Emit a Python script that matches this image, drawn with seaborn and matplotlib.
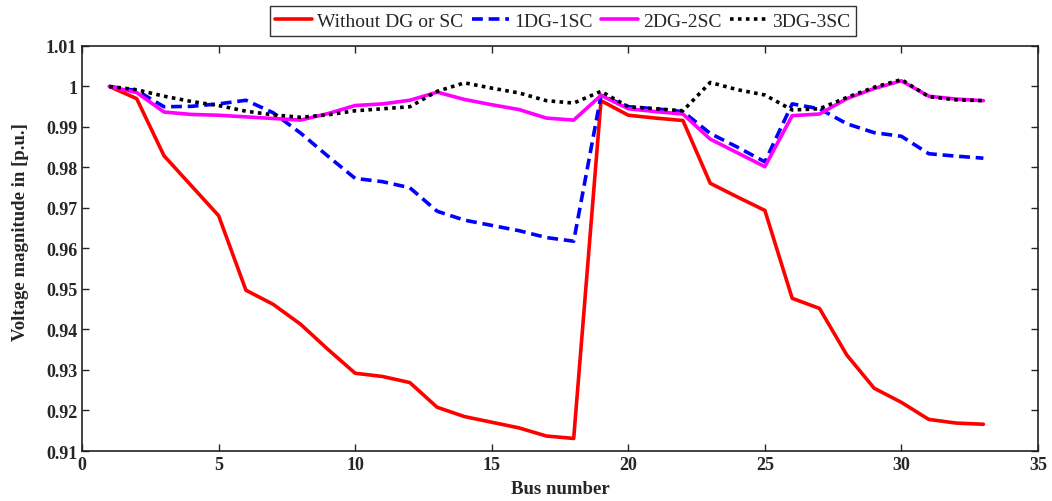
import numpy as np
import pandas as pd
import seaborn as sns
import matplotlib
matplotlib.use("Agg")
import matplotlib.pyplot as plt

bus = list(range(1, 34))
without = [1.0, 0.997, 0.9829, 0.9755, 0.9681, 0.9497, 0.9462, 0.9413, 0.9351, 0.9292,
           0.9284, 0.9269, 0.9208, 0.9185, 0.9171, 0.9157, 0.9137, 0.9131, 0.9965, 0.9929,
           0.9922, 0.9916, 0.9761, 0.9727, 0.9694, 0.9477, 0.9452, 0.9337, 0.9255, 0.9220,
           0.9178, 0.9169, 0.9166]
dg1 = [1.0, 0.999, 0.9950, 0.9951, 0.9957, 0.9966, 0.9935, 0.9885, 0.9828, 0.9773,
       0.9765, 0.9750, 0.9692, 0.9670, 0.9657, 0.9644, 0.9627, 0.9618, 0.9978, 0.9950,
       0.9945, 0.9938, 0.9884, 0.9850, 0.9814, 0.9957, 0.9945, 0.9908, 0.9886, 0.9877,
       0.9834, 0.9828, 0.9823]
dg2 = [1.0, 0.9985, 0.9937, 0.9931, 0.9929, 0.9925, 0.9921, 0.9917, 0.9933, 0.9953,
       0.9957, 0.9966, 0.9986, 0.9968, 0.9955, 0.9943, 0.9922, 0.9917, 0.9978, 0.9945,
       0.9938, 0.9932, 0.9870, 0.9836, 0.9802, 0.9928, 0.9932, 0.9970, 0.9995, 1.0014,
       0.9976, 0.9969, 0.9965]
dg3 = [1.0, 0.9992, 0.9976, 0.9963, 0.9953, 0.9939, 0.9930, 0.9924, 0.9930, 0.9940,
       0.9945, 0.9950, 0.9988, 1.0009, 0.9996, 0.9984, 0.9965, 0.9959, 0.9988, 0.9950,
       0.9945, 0.9940, 1.0010, 0.9992, 0.9979, 0.9942, 0.9945, 0.9973, 0.9998, 1.0017,
       0.9975, 0.9967, 0.9965]
names = ["Without DG or SC", "1DG-1SC", "2DG-2SC", "3DG-3SC"]
colors = ["#ff0000", "#0000ff", "#ff00ff", "#000000"]

df = pd.DataFrame({
    "Bus": bus * 4,
    "V": without + dg1 + dg2 + dg3,
    "Case": sum([[n] * len(bus) for n in names], []),
})

sns.set_style("ticks")
plt.rcParams['font.family'] = ['Liberation Serif', 'DejaVu Serif']

fig = plt.figure(figsize=(10.52, 5.02), dpi=100)
ax = fig.add_axes([0.078, 0.0996, 0.9087, 0.8068])

dashes = {names[0]: "", names[1]: (3, 1.6), names[2]: "", names[3]: (1, 1.2)}
sns.lineplot(data=df, x="Bus", y="V", hue="Case", style="Case", hue_order=names,
             style_order=names, palette=dict(zip(names, colors)), dashes=dashes,
             linewidth=2.6, ax=ax, legend=True)

ax.set_xlim(0, 35)
ax.set_ylim(0.91, 1.01)
ax.set_xticks(range(0, 36, 5))
ax.set_yticks(np.round(np.arange(0.91, 1.0101, 0.01), 2))
ax.set_yticklabels(["0.91", "0.92", "0.93", "0.94", "0.95", "0.96", "0.97", "0.98", "0.99", "1", "1.01"])
ax.tick_params(direction="in", top=True, right=True, length=5, width=1, labelsize=13)
for lab in ax.get_xticklabels() + ax.get_yticklabels():
    lab.set_fontweight("bold")
for sp in ax.spines.values():
    sp.set_visible(True)
    sp.set_linewidth(1.2)
    sp.set_color("#222222")
ax.set_xlabel("Bus number", fontsize=13.5, fontweight="bold", labelpad=5)
ax.set_ylabel("Voltage magnitude in [p.u.]", fontsize=13.5, fontweight="bold")
ax.yaxis.set_label_coords(-0.056, 0.543)

h, l = ax.get_legend_handles_labels()
ax.legend(h, l, ncol=4, loc="center", bbox_to_anchor=(0.535, 0.956),
          bbox_transform=fig.transFigure, frameon=True, fancybox=False,
          edgecolor="black", fontsize=14, handlelength=1.9, handletextpad=0.25,
          columnspacing=0.45, borderpad=0.3)
ax.get_legend().get_frame().set_linewidth(1.0)

fig.savefig("out.png", dpi=100)
